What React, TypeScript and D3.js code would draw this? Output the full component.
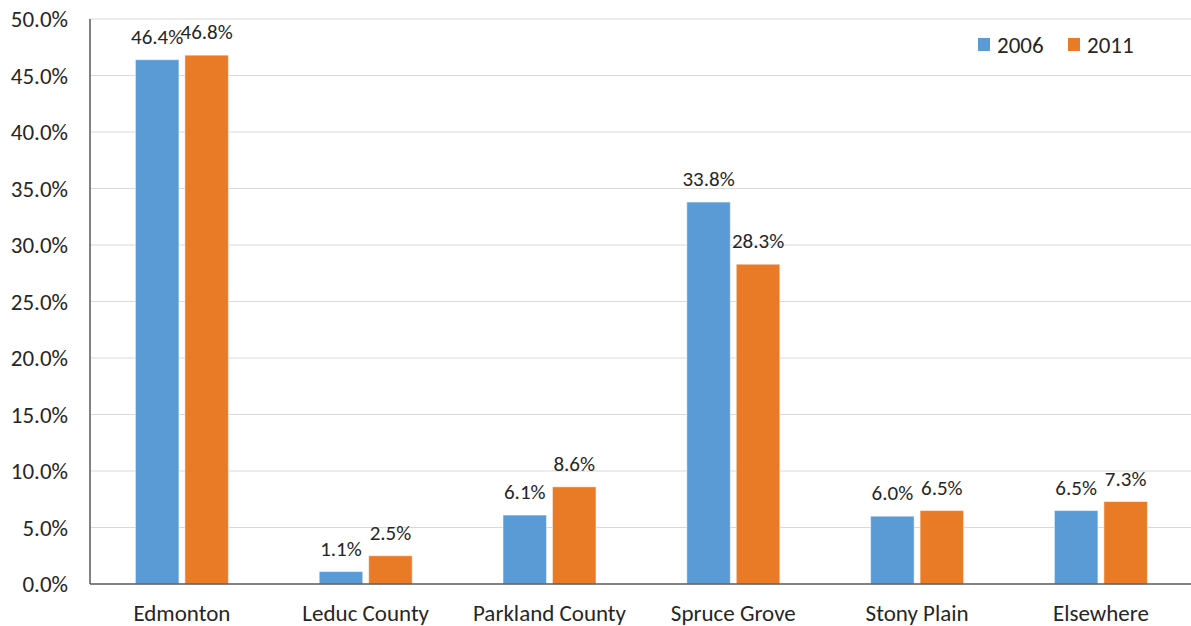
import React from "react";
import * as d3 from "d3";

const categories = ["Edmonton", "Leduc County", "Parkland County", "Spruce Grove", "Stony Plain", "Elsewhere"];
const series = ["2006", "2011"];
const values2006 = [46.4, 1.1, 6.1, 33.8, 6.0, 6.5];
const values2011 = [46.8, 2.5, 8.6, 28.3, 6.5, 7.3];
const yTicks = [0, 5, 10, 15, 20, 25, 30, 35, 40, 45, 50];
const colors = ["#5B9BD5", "#E97B26"];

const W = 1191;
const H = 626;
const plotLeft = 90;
const plotTop = 19;
const plotBottom = 584;
const FONT = "Carlito, Calibri, Lato, 'Open Sans', sans-serif";
const textColor = "#262626";

export default function App() {
  const x = d3
    .scaleBand<string>()
    .domain(categories)
    .range([plotLeft, plotLeft + 6 * 183.8]);
  const groupWidth = 93;
  const x1 = d3.scaleBand<string>().domain(series).range([0, groupWidth]).paddingInner(0.12);
  const y = d3.scaleLinear().domain([0, 50]).range([plotBottom, plotTop]);
  const data = [values2006, values2011];
  const fmt = (v: number) => v.toFixed(1) + "%";

  return (
    <svg
      width={W}
      height={H}
      style={{ position: "absolute", left: 0, top: 0, background: "#fff" }}
      fontFamily={FONT}
    >
      {yTicks.map((t) => (
        <g key={t}>
          {t > 0 && (
            <line x1={plotLeft} x2={W} y1={y(t)} y2={y(t)} stroke="#d9d9d9" strokeWidth={1.2} />
          )}
          <text x={68} y={y(t)} dy="0.35em" textAnchor="end" fontSize={23} fill={textColor}>
            {t.toFixed(1) + "%"}
          </text>
        </g>
      ))}
      {categories.map((c, i) => {
        const center = x(c)! + x.bandwidth() / 2;
        const gx = center - groupWidth / 2;
        return (
          <g key={c}>
            {series.map((s, j) => {
              const v = data[j][i];
              const bx = gx + x1(s)!;
              return (
                <g key={s}>
                  <rect
                    x={bx}
                    y={y(v)}
                    width={x1.bandwidth()}
                    height={y(0) - y(v)}
                    fill={colors[j]}
                    stroke="#fff"
                    strokeOpacity={0.5}
                    strokeWidth={1}
                  />
                  <text
                    x={bx + x1.bandwidth() / 2}
                    y={y(v) - 16}
                    textAnchor="middle"
                    fontSize={21}
                    fill={textColor}
                  >
                    {fmt(v)}
                  </text>
                </g>
              );
            })}
            <text x={center} y={621} textAnchor="middle" fontSize={23} fill={textColor}>
              {c}
            </text>
          </g>
        );
      })}
      <line x1={plotLeft} x2={plotLeft} y1={plotTop} y2={y(0)} stroke="#595959" strokeWidth={1.5} />
      <line x1={plotLeft} x2={W} y1={y(0)} y2={y(0)} stroke="#595959" strokeWidth={1.5} />
      {series.map((s, j) => (
        <g key={s} transform={`translate(${978 + j * 90},38)`}>
          <rect width={12} height={13} fill={colors[j]} />
          <text x={19} y={6.5} dy="0.35em" fontSize={23} fill={textColor}>
            {s}
          </text>
        </g>
      ))}
    </svg>
  );
}
